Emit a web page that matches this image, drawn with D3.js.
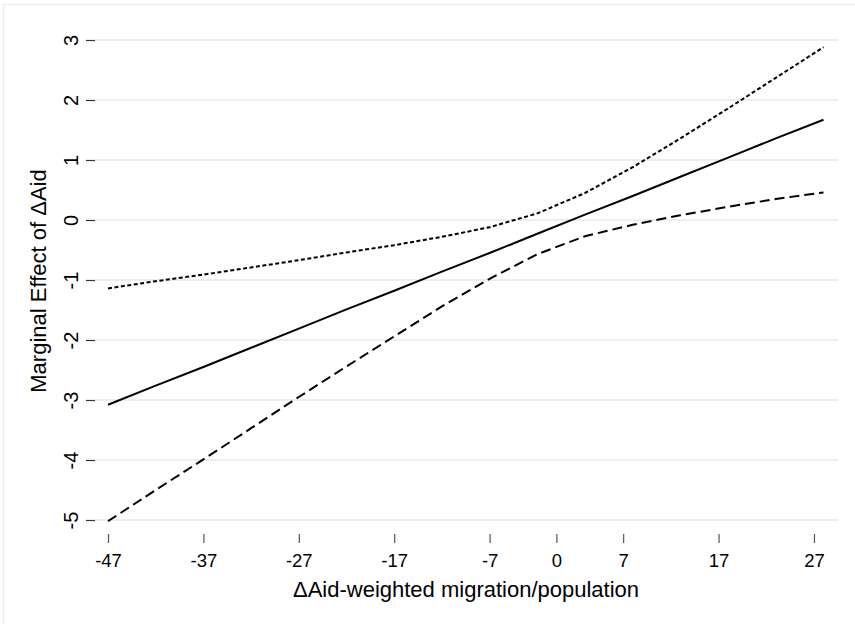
<!DOCTYPE html>
<html>
<head>
<meta charset="utf-8">
<script src="https://cdn.jsdelivr.net/npm/d3@7"></script>
<style>
  body { margin: 0; background: #fff; }
  text { font-family: "Liberation Sans", Arial, sans-serif; fill: #000; }
</style>
</head>
<body>
<script>
var svgWidth = 855;
var svgHeight = 624;

// values, at x = -47(5)28
var xVals = [-47, -42, -37, -32, -27, -22, -17, -12, -7, -2, 3, 8, 13, 18, 23, 28];
var effect = [-3.08, -2.76, -2.45, -2.13, -1.81, -1.49, -1.18, -0.86, -0.55, -0.23, 0.09, 0.40, 0.72, 1.04, 1.36, 1.67];
var upper = [-1.14, -1.02, -0.91, -0.79, -0.67, -0.54, -0.42, -0.28, -0.12, 0.11, 0.45, 0.88, 1.36, 1.86, 2.37, 2.88];
var lower = [-5.02, -4.50, -3.99, -3.47, -2.95, -2.44, -1.94, -1.44, -0.98, -0.57, -0.27, -0.08, 0.08, 0.22, 0.35, 0.46];

var xTicks = [-47, -37, -27, -17, -7, 0, 7, 17, 27];
var yTicks = [-5, -4, -3, -2, -1, 0, 1, 2, 3];

var svg = d3.select("body")
  .append("svg")
  .attr("width", svgWidth)
  .attr("height", svgHeight);

// outer frame
svg.append("rect")
  .attr("x", 3.5).attr("y", 4.5)
  .attr("width", 870).attr("height", 640)
  .attr("fill", "none")
  .attr("stroke", "#eeeeee")
  .attr("stroke-width", 1.5);

var x = d3.scaleLinear().domain([-47, 28]).range([108, 823.5]);
var y = d3.scaleLinear().domain([-5, 3]).range([520, 40]);

// gridlines
svg.append("g")
  .selectAll("line")
  .data(yTicks)
  .enter()
  .append("line")
  .attr("x1", 95)
  .attr("x2", 838)
  .attr("y1", d => y(d))
  .attr("y2", d => y(d))
  .attr("stroke", "#e8e8e8")
  .attr("stroke-width", 1.6);

// y axis
var yAxis = svg.append("g")
  .attr("transform", "translate(95,0)")
  .call(d3.axisLeft(y).tickValues(yTicks).tickSize(9));
yAxis.select(".domain").remove();
yAxis.selectAll(".tick line").attr("stroke", "#333").attr("stroke-width", 1.2);
yAxis.selectAll(".tick text")
  .attr("transform", "rotate(-90)")
  .attr("x", 0)
  .attr("y", -17)
  .attr("dy", 0)
  .attr("text-anchor", "middle")
  .style("font-size", "20px")
  .style("font-family", "Liberation Sans, Arial, sans-serif")
  .text(d => d < 0 ? "-" + Math.abs(d) : d);

// x axis
var xAxis = svg.append("g")
  .attr("transform", "translate(0,534)")
  .call(d3.axisBottom(x).tickValues(xTicks).tickSize(9).tickPadding(10));
xAxis.select(".domain").remove();
xAxis.selectAll(".tick line").attr("stroke", "#555").attr("stroke-width", 1.2);
xAxis.selectAll(".tick text")
  .attr("dy", 0)
  .attr("y", 33)
  .style("font-size", "18.5px")
  .style("font-family", "Liberation Sans, Arial, sans-serif")
  .text(d => d < 0 ? "-" + Math.abs(d) : d);

// axis titles
svg.append("text")
  .attr("x", 466)
  .attr("y", 597)
  .attr("text-anchor", "middle")
  .style("font-size", "22px")
  .text("\u0394Aid-weighted migration/population");

svg.append("text")
  .attr("transform", "translate(46,281) rotate(-90)")
  .attr("text-anchor", "middle")
  .style("font-size", "22px")
  .text("Marginal Effect of \u0394Aid");

// lines
var line = function(vals) {
  return d3.line()
    .x((d, i) => x(xVals[i]))
    .y(d => y(d))(vals);
};

svg.append("path")
  .attr("d", line(upper))
  .attr("fill", "none")
  .attr("stroke", "#000")
  .attr("stroke-width", 2)
  .attr("stroke-dasharray", "4,2.5");

svg.append("path")
  .attr("d", line(lower))
  .attr("fill", "none")
  .attr("stroke", "#000")
  .attr("stroke-width", 2)
  .attr("stroke-dasharray", "10,5");

svg.append("path")
  .attr("d", line(effect))
  .attr("fill", "none")
  .attr("stroke", "#000")
  .attr("stroke-width", 2);
</script>
</body>
</html>
